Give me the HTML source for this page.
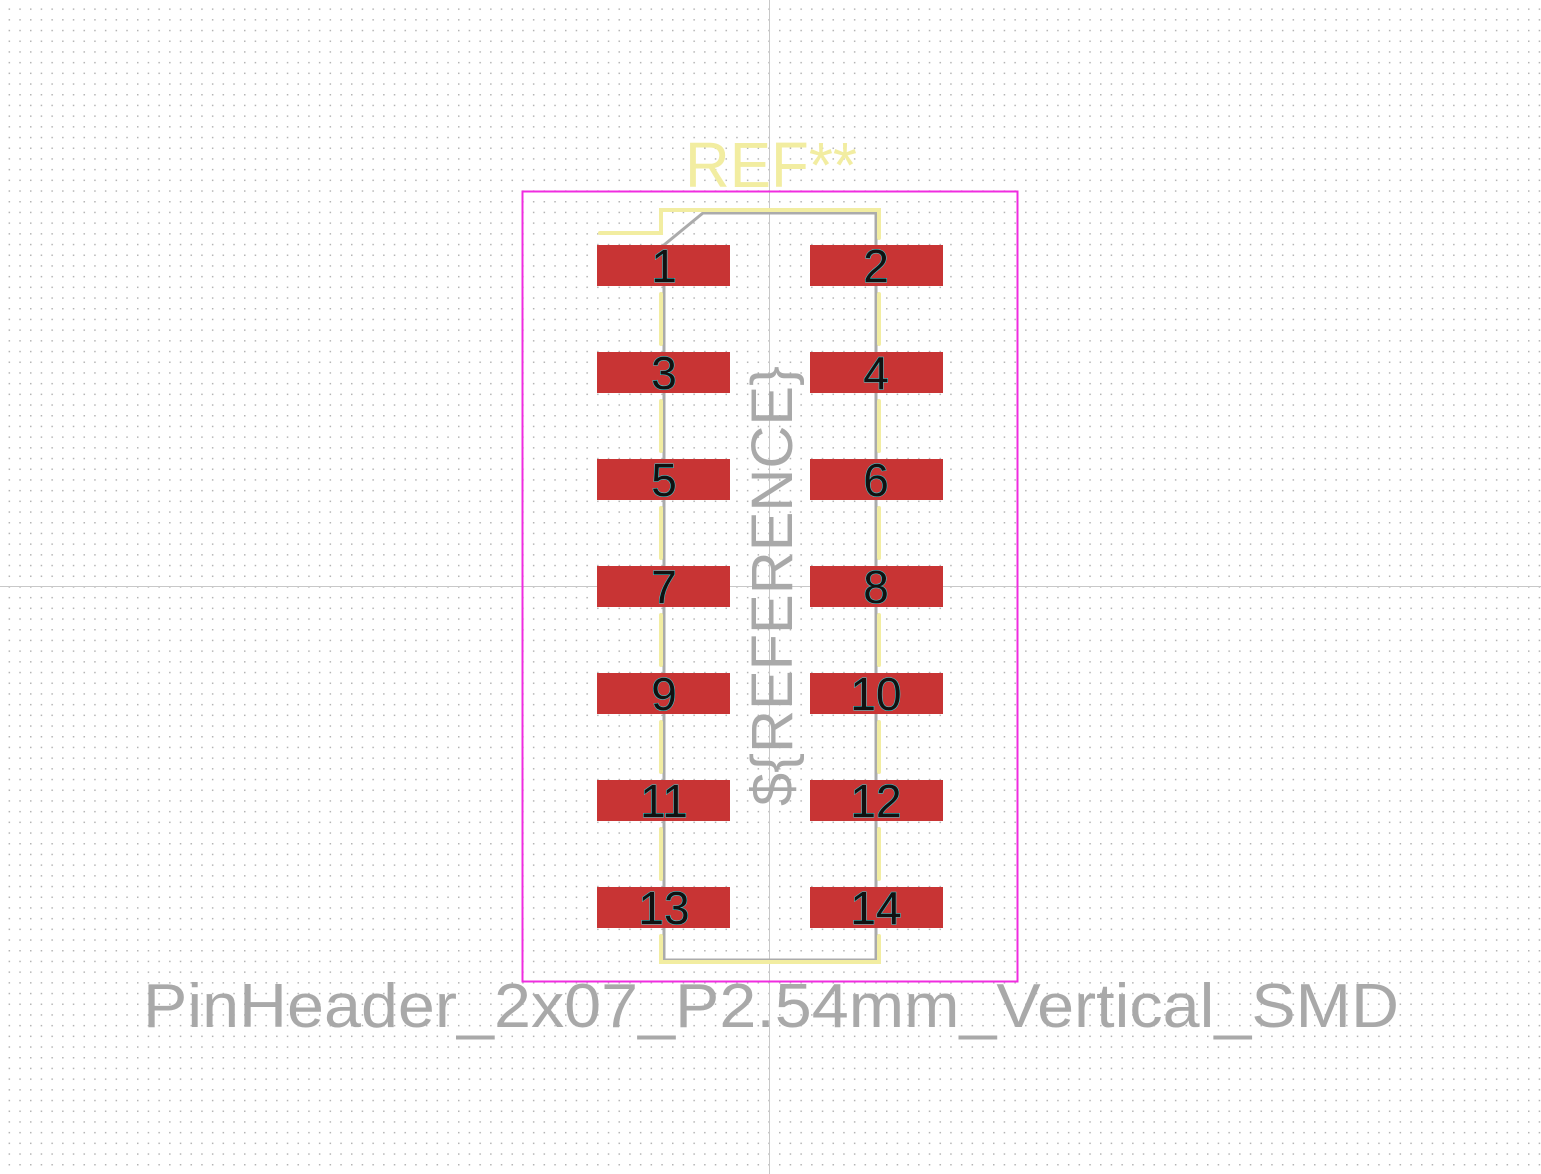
<!DOCTYPE html>
<html><head><style>html,body{margin:0;padding:0;background:#fff;}svg{display:block}</style></head><body>
<svg width="1541" height="1174" viewBox="0 0 1541 1174" xmlns="http://www.w3.org/2000/svg">
<defs>
<pattern id="g" x="8.6" y="8.4" width="10.7" height="10.7" patternUnits="userSpaceOnUse">
<rect x="0" y="0" width="1.5" height="1.5" fill="#b4b4b4"/>
</pattern>
</defs>
<rect width="1541" height="1174" fill="#fff"/>
<rect width="1541" height="1174" fill="url(#g)"/>
<line x1="769.5" y1="0" x2="769.5" y2="1174" stroke="#c8c8c8" stroke-width="1"/>
<line x1="0" y1="586.5" x2="1541" y2="586.5" stroke="#c8c8c8" stroke-width="1"/>
<!-- fab outline -->
<path d="M703,213 L876,213 L876,960 L664,960 L664,245 Z" fill="none" stroke="#ababab" stroke-width="3"/>
<!-- courtyard -->
<rect x="522.5" y="191.5" width="495" height="790" fill="none" stroke="#f02ce0" stroke-width="2"/>
<!-- silk -->
<g stroke="#f2eda1" stroke-width="4" fill="none" stroke-linecap="round">
<path d="M600,233 L661,233 L661,210 L879,210 L879,238"/>
<path d="M661,294 L661,344 M661,401 L661,451 M661,508 L661,558 M661,615 L661,665 M661,722 L661,772 M661,829 L661,879"/>
<path d="M879,294 L879,344 M879,401 L879,451 M879,508 L879,558 M879,615 L879,665 M879,722 L879,772 M879,829 L879,879"/>
<path d="M661,936 L661,962 L879,962 L879,936"/>
</g>
<!-- pads -->
<g fill="#c83434">
<rect x="597" y="245" width="133" height="41"/><rect x="810" y="245" width="133" height="41"/>
<rect x="597" y="352" width="133" height="41"/><rect x="810" y="352" width="133" height="41"/>
<rect x="597" y="459" width="133" height="41"/><rect x="810" y="459" width="133" height="41"/>
<rect x="597" y="566" width="133" height="41"/><rect x="810" y="566" width="133" height="41"/>
<rect x="597" y="673" width="133" height="41"/><rect x="810" y="673" width="133" height="41"/>
<rect x="597" y="780" width="133" height="41"/><rect x="810" y="780" width="133" height="41"/>
<rect x="597" y="887" width="133" height="41"/><rect x="810" y="887" width="133" height="41"/>
</g>
<!-- reference vertical -->
<text transform="translate(792,586) rotate(-90)" text-anchor="middle" font-family="Liberation Sans, sans-serif" font-size="58" fill="#a9a9a9" textLength="440" lengthAdjust="spacingAndGlyphs">${REFERENCE}</text>
<!-- pad numbers -->
<g font-family="Liberation Sans, sans-serif" font-size="46" fill="#111" stroke="#3ad6dc" stroke-width="1" text-anchor="middle" paint-order="stroke">
<text x="664" y="282">1</text><text x="876" y="282">2</text>
<text x="664" y="389">3</text><text x="876" y="389">4</text>
<text x="664" y="496">5</text><text x="876" y="496">6</text>
<text x="664" y="603">7</text><text x="876" y="603">8</text>
<text x="664" y="710">9</text><text x="876" y="710">10</text>
<text x="664" y="817">11</text><text x="876" y="817">12</text>
<text x="664" y="924">13</text><text x="876" y="924">14</text>
</g>
<text x="771" y="187" text-anchor="middle" font-family="Liberation Sans, sans-serif" font-size="64" fill="#f2eda1" textLength="172" lengthAdjust="spacingAndGlyphs">REF**</text>
<text x="143" y="1027" font-family="Liberation Sans, sans-serif" font-size="62" fill="#a9a9a9" textLength="1256" lengthAdjust="spacingAndGlyphs">PinHeader_2x07_P2.54mm_Vertical_SMD</text>
</svg>
</body></html>
